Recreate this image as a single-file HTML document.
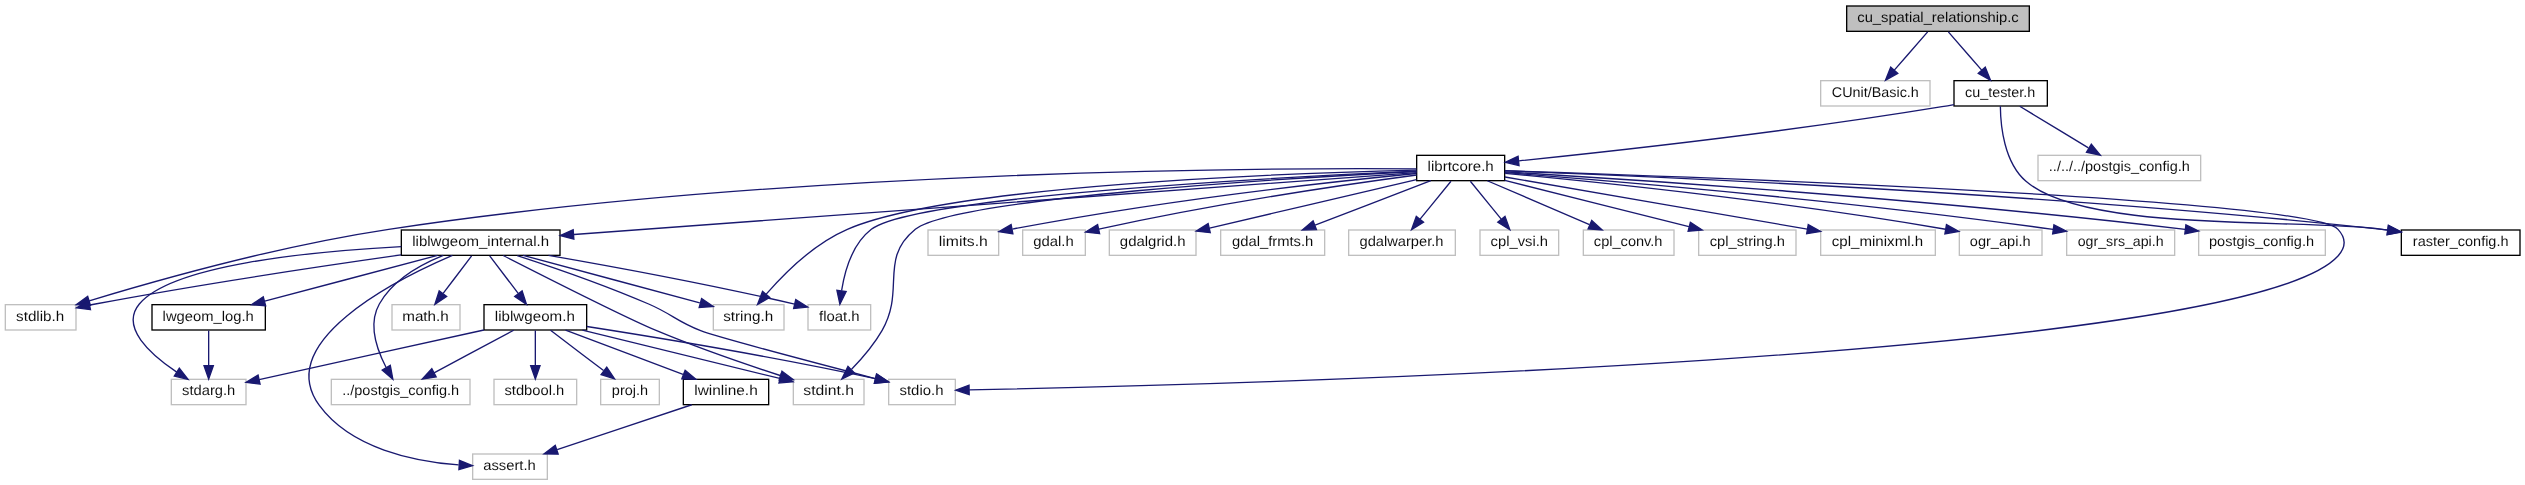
<!DOCTYPE html>
<html>
<head>
<meta charset="utf-8">
<title>cu_spatial_relationship.c - include dependency graph</title>
<style>
html, body { margin: 0; padding: 0; background: #ffffff; }
body { width: 2525px; height: 485px; overflow: hidden; }
svg { display: block; will-change: transform; }
.n rect { fill: #ffffff; stroke: #bfbfbf; stroke-width: 1px; }
.k rect { stroke: #000000; }
.r rect { fill: #bfbfbf; }
.n text { text-rendering: geometricPrecision; font-family: "Liberation Sans", sans-serif; font-size: 10.55px; fill: #000000; fill-opacity: 0.96; }
.n text { stroke: #ffffff; stroke-width: 0.03px; }
.r text { stroke: #bfbfbf; }
.e path { fill: none; stroke: #191970; stroke-width: 1px; }
.e polygon { fill: #191970; stroke: #191970; stroke-width: 1px; }
</style>
</head>
<body>
<svg width="2525" height="485">
<rect x="0" y="0" width="2525" height="485" fill="#ffffff"/>
<g transform="scale(1.333333) translate(4 360)">
<g class="n k r"><rect x="1381" y="-355.5" width="137" height="19"/><text x="1388.96" y="-343.5" textLength="121.08" lengthAdjust="spacingAndGlyphs">cu_spatial_relationship.c</text></g>
<g class="n"><rect x="1361.5" y="-299.5" width="82" height="19"/><text x="1369.9" y="-287.5" textLength="65.2" lengthAdjust="spacingAndGlyphs">CUnit/Basic.h</text></g>
<g class="e"><path d="M1441.74,-336.08C1434.96,-328.3 1424.96,-316.8 1416.74,-307.37"/><polygon points="1419.32,-305 1410.12,-299.75 1414.04,-309.59 1419.32,-305"/></g>
<g class="n k"><rect x="1461.5" y="-299.5" width="70" height="19"/><text x="1469.8" y="-287.5" textLength="52.65" lengthAdjust="spacingAndGlyphs">cu_tester.h</text></g>
<g class="e"><path d="M1457.26,-336.08C1464.04,-328.3 1474.04,-316.8 1482.26,-307.37"/><polygon points="1484.96,-309.59 1488.88,-299.75 1479.68,-305 1484.96,-309.59"/></g>
<g class="n k"><rect x="1058.5" y="-243.5" width="66" height="19"/><text x="1066.69" y="-231.5" textLength="49.61" lengthAdjust="spacingAndGlyphs">librtcore.h</text></g>
<g class="e"><path d="M1461.48,-281.58C1458.45,-281.02 1455.42,-280.48 1452.5,-280 1338.62,-261.28 1203.39,-246.36 1135.31,-239.35"/><polygon points="1135.27,-235.83 1124.97,-238.29 1134.56,-242.79 1135.27,-235.83"/></g>
<g class="n k"><rect x="1797" y="-187.5" width="89" height="19"/><text x="1805.62" y="-175.5" textLength="71.75" lengthAdjust="spacingAndGlyphs">raster_config.h</text></g>
<g class="e"><path d="M1496.27,-280.28C1496.4,-266.11 1498.92,-238.26 1515.5,-224 1560.89,-184.96 1723.24,-196.51 1782.5,-188 1783.8,-187.81 1785.11,-187.62 1786.44,-187.43"/><polygon points="1787.35,-190.83 1796.73,-185.91 1786.33,-183.91 1787.35,-190.83"/></g>
<g class="n"><rect x="1524.5" y="-243.5" width="122" height="19"/><text x="1532.63" y="-231.5" textLength="105.73" lengthAdjust="spacingAndGlyphs">../../../postgis_config.h</text></g>
<g class="e"><path d="M1510.8,-280.32C1524.68,-271.9 1545.99,-258.97 1562.3,-249.07"/><polygon points="1564.5,-251.83 1571.24,-243.65 1560.87,-245.85 1564.5,-251.83"/></g>
<g class="n"><rect x="662.5" y="-75.5" width="50" height="19"/><text x="670.64" y="-63.5" textLength="32.97" lengthAdjust="spacingAndGlyphs">stdio.h</text></g>
<g class="e"><path d="M1124.71,-231.97C1255.36,-227.78 1727.96,-211.06 1749.5,-188 1755.57,-181.5 1755.48,-174.58 1749.5,-168 1678.83,-90.29 899.38,-70.99 722.89,-67.61"/><polygon points="722.9,-64.11 712.84,-67.42 722.77,-71.11 722.9,-64.11"/></g>
<g class="n"><rect x="0" y="-131.5" width="53" height="19"/><text x="8.05" y="-119.5" textLength="36.15" lengthAdjust="spacingAndGlyphs">stdlib.h</text></g>
<g class="e"><path d="M1058.34,-233.37C948.09,-234.12 584.01,-232.81 287.5,-188 206.07,-175.69 112.98,-149.5 62.93,-134.39"/><polygon points="63.8,-130.99 53.21,-131.43 61.76,-137.69 63.8,-130.99"/></g>
<g class="n"><rect x="591" y="-75.5" width="53" height="19"/><text x="598.48" y="-63.5" textLength="38.03" lengthAdjust="spacingAndGlyphs">stdint.h</text></g>
<g class="e"><path d="M1058.47,-231.4C966.36,-226.66 711.53,-211.54 682.5,-188 654.88,-165.61 675.24,-142.82 657.5,-112 651.4,-101.4 642.52,-91.09 634.68,-83.02"/><polygon points="636.9,-80.29 627.32,-75.77 631.98,-85.28 636.9,-80.29"/></g>
<g class="n"><rect x="531" y="-131.5" width="53" height="19"/><text x="538.39" y="-119.5" textLength="37.47" lengthAdjust="spacingAndGlyphs">string.h</text></g>
<g class="e"><path d="M1058.46,-232.38C966.35,-230.24 708.43,-221.36 631.5,-188 606.61,-177.21 584.16,-154.84 570.67,-139.38"/><polygon points="573.26,-137.02 564.15,-131.62 567.9,-141.52 573.26,-137.02"/></g>
<g class="n"><rect x="602" y="-131.5" width="47" height="19"/><text x="610.26" y="-119.5" textLength="30.48" lengthAdjust="spacingAndGlyphs">float.h</text></g>
<g class="e"><path d="M1058.31,-231.63C961.07,-227.33 681.66,-212.92 649.5,-188 635.41,-177.08 629.59,-157.01 627.19,-142.06"/><polygon points="630.63,-141.35 625.93,-131.85 623.68,-142.2 630.63,-141.35"/></g>
<g class="n"><rect x="692" y="-187.5" width="53" height="19"/><text x="700.14" y="-175.5" textLength="36.72" lengthAdjust="spacingAndGlyphs">limits.h</text></g>
<g class="e"><path d="M1058.18,-229.9C999.04,-224.1 871.68,-210.33 755.32,-188.17"/><polygon points="755.66,-184.67 745.18,-186.21 754.33,-191.54 755.66,-184.67"/></g>
<g class="n k"><rect x="297" y="-187.5" width="119" height="19"/><text x="305.2" y="-175.5" textLength="102.61" lengthAdjust="spacingAndGlyphs">liblwgeom_internal.h</text></g>
<g class="e"><path d="M1058.49,-230.57C946.74,-222.36 581.04,-195.5 426.47,-184.14"/><polygon points="426.39,-180.63 416.16,-183.38 425.87,-187.61 426.39,-180.63"/></g>
<g class="n"><rect x="763" y="-187.5" width="47" height="19"/><text x="770.94" y="-175.5" textLength="30.37" lengthAdjust="spacingAndGlyphs">gdal.h</text></g>
<g class="e"><path d="M1058.5,-228.76C1008.75,-222.12 911.46,-208.11 820.15,-188.18"/><polygon points="820.71,-184.72 810.19,-185.98 819.2,-191.56 820.71,-184.72"/></g>
<g class="n"><rect x="828" y="-187.5" width="65" height="19"/><text x="835.9" y="-175.5" textLength="49.2" lengthAdjust="spacingAndGlyphs">gdalgrid.h</text></g>
<g class="e"><path d="M1058.4,-225.26C1017.55,-215.71 947.99,-199.45 903.16,-188.97"/><polygon points="903.7,-185.5 893.16,-186.64 902.1,-192.32 903.7,-185.5"/></g>
<g class="n"><rect x="911.5" y="-187.5" width="78" height="19"/><text x="920.03" y="-175.5" textLength="60.95" lengthAdjust="spacingAndGlyphs">gdal_frmts.h</text></g>
<g class="e"><path d="M1069.16,-224.44C1045.75,-215.48 1008.76,-201.31 982.31,-191.18"/><polygon points="983.33,-187.82 972.74,-187.52 980.82,-194.36 983.33,-187.82"/></g>
<g class="n"><rect x="1007.5" y="-187.5" width="80" height="19"/><text x="1015.64" y="-175.5" textLength="62.98" lengthAdjust="spacingAndGlyphs">gdalwarper.h</text></g>
<g class="e"><path d="M1084.23,-224.08C1077.96,-216.38 1068.71,-205.03 1061.07,-195.65"/><polygon points="1063.66,-193.29 1054.63,-187.75 1058.23,-197.71 1063.66,-193.29"/></g>
<g class="n"><rect x="1106" y="-187.5" width="59" height="19"/><text x="1113.98" y="-175.5" textLength="43.05" lengthAdjust="spacingAndGlyphs">cpl_vsi.h</text></g>
<g class="e"><path d="M1098.77,-224.08C1105.04,-216.38 1114.29,-205.03 1121.93,-195.65"/><polygon points="1124.77,-197.71 1128.37,-187.75 1119.34,-193.29 1124.77,-197.71"/></g>
<g class="n"><rect x="1183.5" y="-187.5" width="68" height="19"/><text x="1191.38" y="-175.5" textLength="51.49" lengthAdjust="spacingAndGlyphs">cpl_conv.h</text></g>
<g class="e"><path d="M1111.47,-224.44C1132.11,-215.6 1164.56,-201.69 1188.13,-191.59"/><polygon points="1189.82,-194.67 1197.63,-187.52 1187.06,-188.24 1189.82,-194.67"/></g>
<g class="n"><rect x="1270" y="-187.5" width="73" height="19"/><text x="1278.33" y="-175.5" textLength="56.35" lengthAdjust="spacingAndGlyphs">cpl_string.h</text></g>
<g class="e"><path d="M1124.62,-224.68C1161.65,-215.38 1221.77,-200.28 1262.67,-190.01"/><polygon points="1263.78,-193.34 1272.63,-187.51 1262.08,-186.55 1263.78,-193.34"/></g>
<g class="n"><rect x="1361.5" y="-187.5" width="86" height="19"/><text x="1369.89" y="-175.5" textLength="68.46" lengthAdjust="spacingAndGlyphs">cpl_minixml.h</text></g>
<g class="e"><path d="M1124.7,-227.27C1178.84,-217.93 1286.58,-199.34 1351.43,-188.16"/><polygon points="1352.19,-191.58 1361.45,-186.43 1351,-184.68 1352.19,-191.58"/></g>
<g class="n"><rect x="1465.5" y="-187.5" width="62" height="19"/><text x="1473.33" y="-175.5" textLength="45.6" lengthAdjust="spacingAndGlyphs">ogr_api.h</text></g>
<g class="e"><path d="M1124.88,-230C1187.65,-224.11 1327.74,-209.84 1455.18,-188.08"/><polygon points="1455.86,-191.52 1465.12,-186.37 1454.67,-184.62 1455.86,-191.52"/></g>
<g class="n"><rect x="1546" y="-187.5" width="81" height="19"/><text x="1554.31" y="-175.5" textLength="64.38" lengthAdjust="spacingAndGlyphs">ogr_srs_api.h</text></g>
<g class="e"><path d="M1124.54,-230.54C1197.02,-224.95 1375.57,-210.15 1535.84,-187.98"/><polygon points="1536.46,-191.43 1545.88,-186.58 1535.5,-184.5 1536.46,-191.43"/></g>
<g class="n"><rect x="1645" y="-187.5" width="95" height="19"/><text x="1652.72" y="-175.5" textLength="78.8" lengthAdjust="spacingAndGlyphs">postgis_config.h</text></g>
<g class="e"><path d="M1124.7,-231.11C1208.39,-226.17 1434.93,-211.67 1634.85,-187.98"/><polygon points="1635.44,-191.44 1644.95,-186.78 1634.61,-184.49 1635.44,-191.44"/></g>
<g class="e"><path d="M1124.67,-231.86C1224.42,-228.2 1530.32,-215.39 1782.5,-188 1783.8,-187.86 1785.12,-187.71 1786.45,-187.55"/><polygon points="1787.3,-190.97 1796.78,-186.24 1786.41,-184.03 1787.3,-190.97"/></g>
<g class="e"><path d="M383.93,-168.35C409.73,-159.95 449.24,-146.39 482.5,-132 500.38,-124.26 503.33,-119.03 521.5,-112 533.74,-107.26 607.46,-87.81 652.44,-76.09"/><polygon points="653.59,-79.4 662.39,-73.5 651.83,-72.63 653.59,-79.4"/></g>
<g class="e"><path d="M296.82,-168.8C238.25,-160.5 146.48,-146.8 67.5,-132 66.21,-131.76 64.9,-131.51 63.58,-131.25"/><polygon points="63.86,-127.73 53.36,-129.14 62.45,-134.59 63.86,-127.73"/></g>
<g class="e"><path d="M373.36,-168.38C403.59,-152.97 466,-121.42 488.5,-112 519.21,-99.14 555.03,-86.85 581.12,-78.38"/><polygon points="582.51,-81.61 590.96,-75.21 580.36,-74.94 582.51,-81.61"/></g>
<g class="e"><path d="M388.35,-168.44C424.37,-158.77 482.93,-143.03 520.83,-132.85"/><polygon points="522.19,-136.11 530.94,-130.14 520.37,-129.35 522.19,-136.11"/></g>
<g class="e"><path d="M407.38,-168.48C453.18,-160.54 522.53,-147.87 591.97,-131.97"/><polygon points="592.81,-135.37 601.76,-129.71 591.23,-128.55 592.81,-135.37"/></g>
<g class="n"><rect x="244.5" y="-75.5" width="104" height="19"/><text x="252.61" y="-63.5" textLength="87.78" lengthAdjust="spacingAndGlyphs">../postgis_config.h</text></g>
<g class="e"><path d="M328.48,-168.4C311.33,-161.51 290.75,-149.98 280.5,-132 272.07,-117.21 278.52,-98.07 285.59,-84.4"/><polygon points="288.72,-85.97 290.64,-75.55 282.64,-82.5 288.72,-85.97"/></g>
<g class="n k"><rect x="110" y="-131.5" width="85" height="19"/><text x="117.96" y="-119.5" textLength="68.33" lengthAdjust="spacingAndGlyphs">lwgeom_log.h</text></g>
<g class="e"><path d="M324.18,-168.44C289.11,-159.16 233,-144.31 194.54,-134.13"/><polygon points="195.24,-130.69 184.67,-131.52 193.44,-137.46 195.24,-130.69"/></g>
<g class="n"><rect x="124.5" y="-75.5" width="56" height="19"/><text x="132.55" y="-63.5" textLength="39.91" lengthAdjust="spacingAndGlyphs">stdarg.h</text></g>
<g class="e"><path d="M296.99,-175.09C229.35,-171.52 125.09,-161.29 100.5,-132 85.93,-114.65 108.72,-94.17 128.56,-80.9"/><polygon points="130.48,-83.83 137.05,-75.52 126.73,-77.92 130.48,-83.83"/></g>
<g class="n"><rect x="350.5" y="-19.5" width="56" height="19"/><text x="358.38" y="-7.5" textLength="39.5" lengthAdjust="spacingAndGlyphs">assert.h</text></g>
<g class="e"><path d="M335.32,-168.48C292.12,-149.87 200.7,-103.43 235.5,-56 259.26,-23.62 306.33,-13.93 339.97,-11.33"/><polygon points="340.6,-14.8 350.38,-10.72 340.19,-7.81 340.6,-14.8"/></g>
<g class="n"><rect x="290" y="-131.5" width="51" height="19"/><text x="297.68" y="-119.5" textLength="34.89" lengthAdjust="spacingAndGlyphs">math.h</text></g>
<g class="e"><path d="M349.73,-168.08C343.94,-160.46 335.44,-149.26 328.36,-139.94"/><polygon points="330.98,-137.6 322.14,-131.75 325.4,-141.83 330.98,-137.6"/></g>
<g class="n k"><rect x="359" y="-131.5" width="77" height="19"/><text x="367.13" y="-119.5" textLength="59.99" lengthAdjust="spacingAndGlyphs">liblwgeom.h</text></g>
<g class="e"><path d="M363.27,-168.08C369.06,-160.46 377.56,-149.26 384.64,-139.94"/><polygon points="387.6,-141.83 390.86,-131.75 382.02,-137.6 387.6,-141.83"/></g>
<g class="e"><path d="M152.5,-112.08C152.5,-105.01 152.5,-94.86 152.5,-85.99"/><polygon points="156,-85.75 152.5,-75.75 149,-85.75 156,-85.75"/></g>
<g class="e"><path d="M436.13,-115.13C486.24,-107.31 576.27,-92.5 652.5,-76 652.6,-75.98 652.7,-75.96 652.8,-75.94"/><polygon points="653.37,-79.4 662.32,-73.72 651.79,-72.58 653.37,-79.4"/></g>
<g class="e"><path d="M432.79,-112.43C467.81,-103.91 523.29,-90.37 580.78,-76.17"/><polygon points="581.9,-79.5 590.77,-73.7 580.22,-72.7 581.9,-79.5"/></g>
<g class="e"><path d="M381.27,-112.32C365.15,-103.7 340.2,-90.36 321.54,-80.39"/><polygon points="323.16,-77.28 312.69,-75.65 319.86,-83.46 323.16,-77.28"/></g>
<g class="e"><path d="M358.95,-112.5C312.85,-102.34 236.17,-85.44 190.37,-75.35"/><polygon points="191.06,-71.91 180.54,-73.18 189.55,-78.75 191.06,-71.91"/></g>
<g class="n"><rect x="366.5" y="-75.5" width="62" height="19"/><text x="374.32" y="-63.5" textLength="44.86" lengthAdjust="spacingAndGlyphs">stdbool.h</text></g>
<g class="e"><path d="M397.5,-112.08C397.5,-105.01 397.5,-94.86 397.5,-85.99"/><polygon points="401,-85.75 397.5,-75.75 394,-85.75 401,-85.75"/></g>
<g class="n"><rect x="446.5" y="-75.5" width="44" height="19"/><text x="454.92" y="-63.5" textLength="27.15" lengthAdjust="spacingAndGlyphs">proj.h</text></g>
<g class="e"><path d="M408.91,-112.32C419.61,-104.18 435.84,-91.84 448.66,-82.09"/><polygon points="451.04,-84.67 456.89,-75.83 446.81,-79.1 451.04,-84.67"/></g>
<g class="n k"><rect x="508.5" y="-75.5" width="64" height="19"/><text x="516.68" y="-63.5" textLength="47.64" lengthAdjust="spacingAndGlyphs">lwinline.h</text></g>
<g class="e"><path d="M420.16,-112.44C443.9,-103.48 481.41,-89.31 508.24,-79.18"/><polygon points="509.83,-82.32 517.95,-75.52 507.36,-75.77 509.83,-82.32"/></g>
<g class="e"><path d="M514.83,-56.44C487.58,-47.36 444.32,-32.94 413.85,-22.78"/><polygon points="414.64,-19.36 404.05,-19.52 412.43,-26 414.64,-19.36"/></g>
</g>
</svg>
</body>
</html>
